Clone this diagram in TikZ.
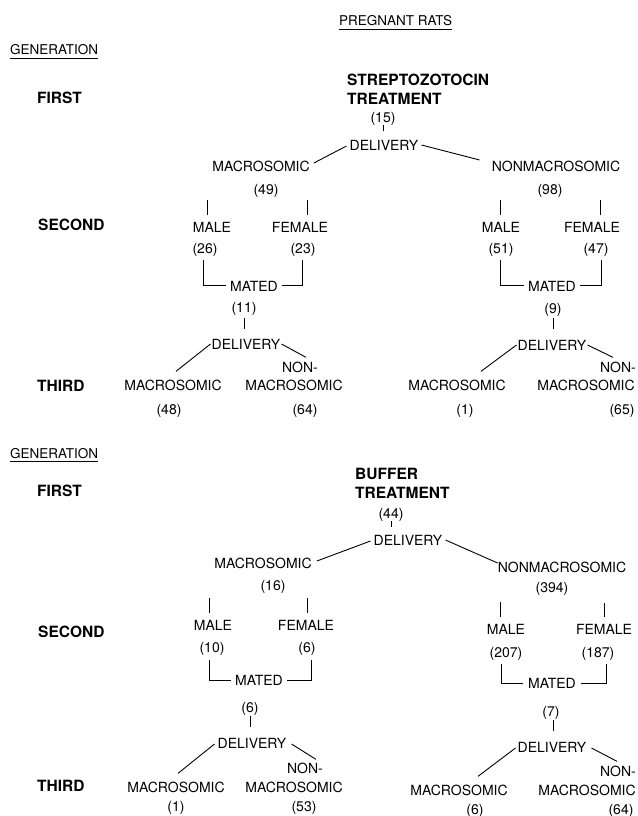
\documentclass[tikz,border=0pt]{standalone}
\usepackage{fontspec}
\setmainfont{TeX Gyre Heros}
\usetikzlibrary{calc}
\tikzset{
  lab/.style={font=\fontsize{14}{16}\selectfont, inner sep=0pt, anchor=base},
  hdr/.style={font=\fontsize{13.5}{16}\selectfont, inner sep=0pt, anchor=base west},
  gen/.style={font=\fontsize{15.5}{18}\selectfont\bfseries, inner sep=0pt, anchor=base west},
  ln/.style={line width=0.9pt, line cap=butt},
}
\begin{document}
\begin{tikzpicture}[x=1pt,y=-1pt]
\useasboundingbox (0,0) rectangle (637,816);
% ================= headers =================
\node[hdr] (pr) at (339,26) {PREGNANT RATS};
\draw[ln] ($(pr.base west)+(0,3)$) -- ($(pr.base east)+(0,3)$);
\node[hdr] (g1) at (10,55) {GENERATION};
\draw[ln] ($(g1.base west)+(0,3)$) -- ($(g1.base east)+(0,3)$);
\node[gen] (f1) at (37,103) {FIRST};
\node[gen] (s1) at (38,230) {SECOND};
\node[gen] (t1) at (37,391) {THIRD};
\node[gen] (st) at (347,85) {STREPTOZOTOCIN};
\node[gen] (tr1) at (347,104) {TREATMENT};
% ================= top tree =================
\node[lab] (a15) at (383,122) {(15)};
\node[lab] (ad) at (384,150) {DELIVERY};
\draw[ln] ($(a15.base)+(0,3)$) -- ($(a15.base)+(0,9)$);
\node[lab] (am) at (261,171) {MACROSOMIC};
\node[lab] (an) at (556,171) {NONMACROSOMIC};
\draw[ln] ($(ad.base west)+(-3,-4)$) -- ($(am.base east)+(4,-8)$);
\draw[ln] ($(ad.base east)+(3,-5)$) -- ($(an.base west)+(-12,-11)$);
% left branch
\node[lab] (a49) at (266,194) {(49)};
\node[lab] (amm) at (212,232) {MALE};
\node[lab] (amf) at (300,232) {FEMALE};
\draw[ln] ($(amm.north)+(-5,-7)$) -- ($(amm.north)+(-5,-22)$);
\draw[ln] ($(amf.north)+(7,-7)$) -- ($(amf.north)+(7,-22)$);
\node[lab] (a26) at (205,253) {(26)};
\node[lab] (a23) at (303,253) {(23)};
\node[lab] (amt) at (254,291) {MATED};
\draw[ln] ($(a26.base)+(-2,7)$) |- ($(amt.base west)+(-4,-6)$);
\draw[ln] ($(a23.base)+(-1,7)$) |- ($(amt.base east)+(4,-6)$);
\node[lab] (a11) at (244,312) {(11)};
\draw[ln] ($(a11.base)+(0,6)$) -- ($(a11.base)+(0,17)$);
\node[lab] (ad2) at (246,349) {DELIVERY};
\node[lab] (anon) at (300,372) {NON-};
\node[lab] (amac) at (173,390) {MACROSOMIC};
\node[lab] (anmac) at (294,390) {MACROSOMIC};
\draw[ln] ($(ad2.base west)+(-1,-5)$) -- ($(amac.north)+(3,-8)$);
\draw[ln] ($(ad2.base east)+(1,-5)$) -- ($(anon.north)+(6,-4)$);
\node[lab] (a48) at (169,414) {(48)};
\node[lab] (a64) at (305,414) {(64)};
% right branch
\node[lab] (a98) at (550,194) {(98)};
\node[lab] (bmm) at (501,232) {MALE};
\node[lab] (bmf) at (592,232) {FEMALE};
\draw[ln] ($(bmm.north)+(-1,-7)$) -- ($(bmm.north)+(-1,-22)$);
\draw[ln] ($(bmf.north)+(8,-7)$) -- ($(bmf.north)+(8,-22)$);
\node[lab] (a51) at (501,253) {(51)};
\node[lab] (a47) at (596,253) {(47)};
\node[lab] (bmt) at (552,291) {MATED};
\draw[ln] ($(a51.base)+(-1,7)$) |- ($(bmt.base west)+(-4,-6)$);
\draw[ln] ($(a47.base)+(5,7)$) |- ($(bmt.base east)+(4,-6)$);
\node[lab] (a9) at (553,313) {(9)};
\draw[ln] ($(a9.base)+(0,5)$) -- ($(a9.base)+(0,16)$);
\node[lab] (bd2) at (552,350) {DELIVERY};
\node[lab] (bnon) at (618,372) {NON-};
\node[lab] (bmac) at (457,390) {MACROSOMIC};
\node[lab] (bnmac) at (586,390) {MACROSOMIC};
\draw[ln] ($(bd2.base west)+(-1,-5)$) -- ($(bmac.north)+(24,-8)$);
\draw[ln] ($(bd2.base east)+(1,-5)$) -- ($(bnon.north)+(-5,-4)$);
\node[lab] (a1) at (465,414) {(1)};
\node[lab] (a65) at (622,414) {(65)};
% ================= bottom =================
\node[hdr] (g2) at (10,458) {GENERATION};
\draw[ln] ($(g2.base west)+(0,3)$) -- ($(g2.base east)+(0,3)$);
\node[gen] (f2) at (37,496) {FIRST};
\node[gen] (s2) at (38,637) {SECOND};
\node[gen] (t2) at (37,791) {THIRD};
\node[gen] (bu) at (355,479) {BUFFER};
\node[gen] (tr2) at (355,498) {TREATMENT};
\node[lab] (c44) at (391,518) {(44)};
\draw[ln] ($(c44.base)+(0,3)$) -- ($(c44.base)+(0,9)$);
\node[lab] (cd) at (408,545) {DELIVERY};
\node[lab] (cm) at (263,568) {MACROSOMIC};
\node[lab] (cn) at (562,572) {NONMACROSOMIC};
\draw[ln] ($(cd.base west)+(-3,-4)$) -- ($(cm.base east)+(5,-7)$);
\draw[ln] ($(cd.base east)+(3,-5)$) -- ($(cn.base west)+(0,-9)$);
% left
\node[lab] (c16) at (273,590) {(16)};
\node[lab] (cmm) at (213,630) {MALE};
\node[lab] (cmf) at (306,630) {FEMALE};
\draw[ln] ($(cmm.north)+(-4,-7)$) -- ($(cmm.north)+(-4,-22)$);
\draw[ln] ($(cmf.north)+(1,-7)$) -- ($(cmf.north)+(1,-22)$);
\node[lab] (c10) at (212,652) {(10)};
\node[lab] (c6) at (307,652) {(6)};
\node[lab] (cmt) at (259,685) {MATED};
\draw[ln] ($(c10.base)+(-3,8)$) |- ($(cmt.base west)+(-4,-5)$);
\draw[ln] ($(c6.base)+(4,8)$) |- ($(cmt.base east)+(4,-5)$);
\node[lab] (c6b) at (250,712) {(6)};
\draw[ln] ($(c6b.base)+(0,4)$) -- ($(c6b.base)+(0,15)$);
\node[lab] (cd2) at (252,748) {DELIVERY};
\node[lab] (cnon) at (305,773) {NON-};
\node[lab] (cmac) at (176,792) {MACROSOMIC};
\node[lab] (cnmac) at (294,792) {MACROSOMIC};
\draw[ln] ($(cd2.base west)+(-3,-4)$) -- ($(cmac.north)+(2,-8)$);
\draw[ln] ($(cd2.base east)+(5,-4)$) -- ($(cnon.north)+(11,-3)$);
\node[lab] (c1) at (176,811) {(1)};
\node[lab] (c53) at (304,811) {(53)};
% right
\node[lab] (c394) at (552,592) {(394)};
\node[lab] (dmm) at (506,634) {MALE};
\node[lab] (dmf) at (604,634) {FEMALE};
\draw[ln] ($(dmm.north)+(-6,-7)$) -- ($(dmm.north)+(-6,-22)$);
\draw[ln] ($(dmf.north)+(0,-7)$) -- ($(dmf.north)+(0,-21)$);
\node[lab] (c207) at (506,657) {(207)};
\node[lab] (c187) at (598,657) {(187)};
\node[lab] (dmt) at (552,688) {MATED};
\draw[ln] ($(c207.base)+(-5,7)$) |- ($(dmt.base west)+(-5,-5)$);
\draw[ln] ($(c187.base)+(8,7)$) |- ($(dmt.base east)+(5,-5)$);
\node[lab] (c7) at (551,716) {(7)};
\draw[ln] ($(c7.base)+(2,4)$) -- ($(c7.base)+(2,15)$);
\node[lab] (dd2) at (552,752) {DELIVERY};
\node[lab] (dnon) at (618,776) {NON-};
\node[lab] (dmac) at (459,795) {MACROSOMIC};
\node[lab] (dnmac) at (587,795) {MACROSOMIC};
\draw[ln] ($(dd2.base west)+(-2,-4)$) -- ($(dmac.north)+(19,-8)$);
\draw[ln] ($(dd2.base east)+(5,-4)$) -- ($(dnon.north)+(-1,-4)$);
\node[lab] (c6c) at (475,814) {(6)};
\node[lab] (c64) at (621,814) {(64)};
\end{tikzpicture}
\end{document}
